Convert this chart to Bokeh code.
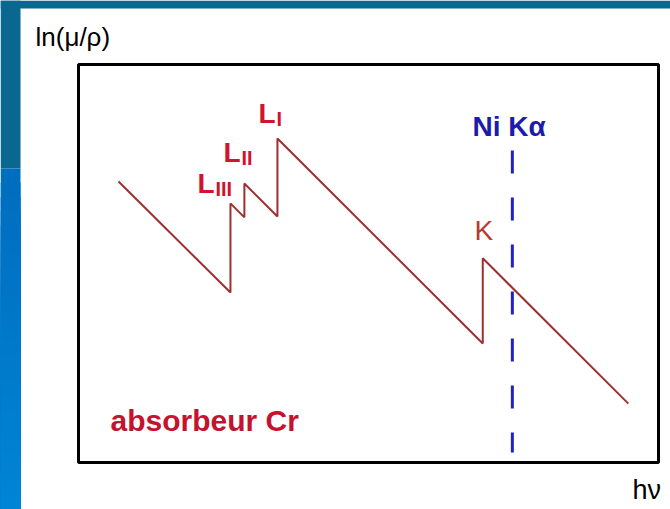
from bokeh.plotting import figure
from bokeh.models import Range1d
from bokeh.core.properties import value
from bokeh.embed import file_html
from bokeh.resources import INLINE

# --- absorption curve of a Cr absorber (arbitrary units) ---
hv = [0.69, 2.62, 2.62, 2.86, 2.86, 3.43, 3.43, 6.97, 6.97, 9.48]
ln_mu_rho = [7.06, 4.27, 6.51, 6.16, 7.01, 6.18, 8.14, 2.99, 5.13, 1.48]

# Ni K-alpha emission energy and the extent of its marker line
ni_ka_hv = 7.48
ni_ka_span = [7.84, 0.25]

# edge labels: main letter, subscript
edge_names = ["L", "L", "L"]
edge_subs = ["III", "II", "I"]

# --- page geometry (pixels) ---
W, H = 670, 509
BOX_L, BOX_R, BOX_T, BOX_B = 78, 658, 64, 462
X_MAX, Y_MAX = 10.0, 10.0
sx = (BOX_R - BOX_L) / X_MAX
sy = (BOX_B - BOX_T) / Y_MAX
TXT_SHIFT = -10  # baseline correction for the svg text renderer


def dx(px):
    return (px - BOX_L) / sx


def dy(py):
    return (BOX_B - py) / sy


def ty(py):
    return dy(py + TXT_SHIFT)


p = figure(width=W, height=H, output_backend="svg", toolbar_location=None,
           x_axis_type=None, y_axis_type=None,
           x_range=Range1d(dx(0), dx(W)), y_range=Range1d(dy(H), dy(0)),
           min_border=0, outline_line_color=None,
           background_fill_color="white", border_fill_color="white")

# slide background strips
p.quad(left=dx(0), right=dx(W), top=dy(0), bottom=dy(8),
       fill_color="#0a6790", line_color=None)
p.quad(left=dx(0), right=dx(20), top=dy(0), bottom=dy(168),
       fill_color="#0a6790", line_color=None)
n = 24
for i in range(n):
    y0 = 168 + (H - 168) * i / n
    t = i / (n - 1)
    g = int(0x6e + (0x84 - 0x6e) * t)
    b = int(0xbe + (0xd6 - 0xbe) * t)
    # each strip runs to the bottom; the next one paints over its lower part
    p.quad(left=dx(0), right=dx(20), top=dy(y0), bottom=dy(H),
           fill_color=f"#00{g:02x}{b:02x}", line_color=None)

# frame of the diagram
p.quad(left=0, right=X_MAX, bottom=0, top=Y_MAX, fill_color=None,
       line_color="black", line_width=3)

# absorption curve
p.line(hv, ln_mu_rho, line_color="#9e2f30", line_width=2)

# Ni K-alpha line
p.line([ni_ka_hv, ni_ka_hv], ni_ka_span, line_color="#1f20c8",
       line_width=3, line_dash="23 24")

FONT = value("Liberation Sans")

# edge labels L_III, L_II, L_I next to their jumps
Lx = [197, 223, 258]
Lb = [193, 162, 123]
p.text(x=[dx(v) for v in Lx], y=[ty(v) for v in Lb], text=edge_names,
       text_font=FONT, text_font_size="28px", text_font_style="bold",
       text_color="#d2132d", text_baseline="alphabetic", text_align="left")
p.text(x=[dx(v + 18) for v in Lx], y=[ty(v + 5) for v in Lb], text=edge_subs,
       text_font=FONT, text_font_size="20px", text_font_style="bold",
       text_color="#d2132d", text_baseline="alphabetic", text_align="left")

# K edge label
p.text(x=[dx(474)], y=[ty(240)], text=["K"], text_font=FONT,
       text_font_size="28px", text_color="#b83a2e",
       text_baseline="alphabetic", text_align="left")

# Ni K-alpha label
p.text(x=[dx(472)], y=[ty(136)], text=["Ni Kα"], text_font=FONT,
       text_font_size="28px", text_font_style="bold", text_color="#1c1caa",
       text_baseline="alphabetic", text_align="left")

# absorber name
p.text(x=[dx(110)], y=[ty(430)], text=["absorbeur Cr"], text_font=FONT,
       text_font_size="30px", text_font_style="bold", text_color="#c4132f",
       text_baseline="alphabetic", text_align="left")

# axis names
p.text(x=[dx(35)], y=[ty(46)], text=["ln(μ/ρ)"], text_font=FONT,
       text_font_size="26px", text_color="black",
       text_baseline="alphabetic", text_align="left")
p.text(x=[dx(632)], y=[ty(499)], text=["hν"], text_font=FONT,
       text_font_size="27px", text_color="black",
       text_baseline="alphabetic", text_align="left")

open("out.html", "w").write(file_html(p, INLINE))
